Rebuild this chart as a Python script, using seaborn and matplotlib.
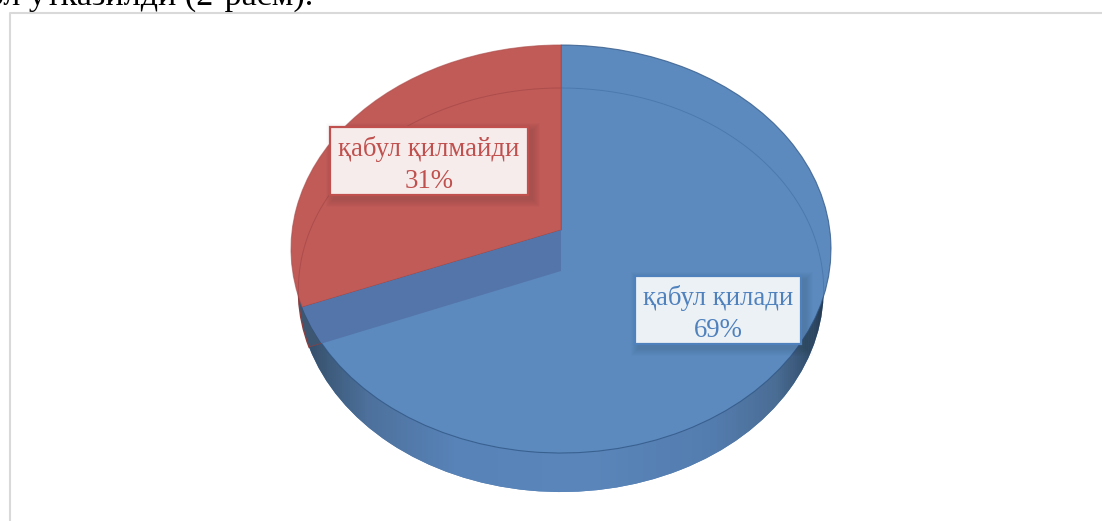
import numpy as np
import matplotlib
matplotlib.use("Agg")
import matplotlib.pyplot as plt
import matplotlib.transforms as mtransforms
from matplotlib.colors import LinearSegmentedColormap, to_rgba
from matplotlib.patches import Rectangle, Polygon
import seaborn as sns

categories = ["қабул қилади", "қабул қилмайди"]
values = [69, 31]
pie_colors = ["#5C8ABF", "#C05B58"]
text_colors = ["#4F81BD", "#C0504D"]
side_colors = ["#5480B5", "#3D5672"]
caption = "ол утказилди (2-расм)."

sns.set_theme(style="white")
plt.rcParams["font.family"] = ["Liberation Serif", "DejaVu Serif"]


class Perspective(mtransforms.Transform):
    """Tilted-disc projection of the unit pie into pixel coordinates."""
    input_dims = output_dims = 2
    is_separable = False
    has_inverse = False

    def __init__(self, cx, rx, y_apex, y_top, y_bottom):
        super().__init__()
        self.cx, self.rx = cx, rx
        s = y_top + y_bottom
        self.c = (s - 2 * y_apex) / (y_bottom - y_top)
        self.a = y_top * (1 + self.c) - y_apex
        self.b = y_apex

    def transform_non_affine(self, values):
        v = np.asarray(values, float)
        d = 1 + self.c * v[:, 1]
        return np.column_stack([self.cx + self.rx * v[:, 0] / d,
                                (self.a * v[:, 1] + self.b) / d])


top_proj = Perspective(561, 268.8, 230, 45, 453)
bot_proj = Perspective(561, 261.5, 271, 88, 492)

fig = plt.figure(figsize=(11.02, 5.21), dpi=100, facecolor="white")
ax = fig.add_axes([0, 0, 1, 1])


def draw_pie(proj, colors, zorder, **wedgeprops):
    wedges, _ = ax.pie(values, colors=colors, startangle=90, counterclock=False,
                       wedgeprops=wedgeprops)
    for w in wedges:
        w.set_transform(proj + ax.transData)
        w.set_zorder(zorder)
    return wedges


# extruded side: shaded band clipped by the lower disc
side = draw_pie(bot_proj, side_colors, 1, linewidth=0)
side[1].set_edgecolor("#8A3F3F")
side[1].set_linewidth(1.0)
shade = LinearSegmentedColormap.from_list(
    "side",
    [(0.0, "#2E4560"), (0.05, "#3A5674"), (0.14, "#4D719C"), (0.30, "#5883B8"),
     (0.55, "#5A86BB"), (0.78, "#547DAF"), (0.90, "#4A6D95"), (0.96, "#34506F"),
     (1.0, "#1F3246")])
grad = np.linspace(0, 1, 540).reshape(1, -1)
img = ax.imshow(grad, extent=(291, 831, 495, 240), cmap=shade, aspect="auto", zorder=2)
img.set_clip_path(side[0])

# top surface
top = draw_pie(top_proj, pie_colors, 3, linewidth=0.8,
               edgecolor=to_rgba("#2F5582", 0.75))
top[1].set_edgecolor(to_rgba("#A84A48", 0.6))

# inner wall seen through the blue surface
split = 90 - 360 * values[0] / sum(values)
theta = np.deg2rad(split)
rim = np.array([[np.cos(theta), np.sin(theta)]])
apex = np.array([[0.0, 0.0]])
wall = np.vstack([top_proj.transform_non_affine(apex), top_proj.transform_non_affine(rim),
                  bot_proj.transform_non_affine(rim), bot_proj.transform_non_affine(apex)])
wall_patch = Polygon(wall, closed=True, facecolor="#5475AA", edgecolor="none", zorder=4)
ax.add_patch(wall_patch)
wall_patch.set_clip_path(top[0])

# far rim of the lower disc seen through the surface (arc only, no radial edges)
arc_spans = [(90, split), (split, split - 360 * values[1] / sum(values))]
arc_colors = [to_rgba("#3F6B9F", 0.55), to_rgba("#A04443", 0.6)]
for i, (a0, a1) in enumerate(arc_spans):
    t = np.deg2rad(np.linspace(a0, a1, 200))
    line, = ax.plot(np.cos(t), np.sin(t), color=arc_colors[i], linewidth=0.7,
                    transform=bot_proj + ax.transData, zorder=5)
    line.set_clip_path(top[i])

# data labels
boxes = [(635, 276, 166, 68), (330, 127, 198, 68)]
for i, (cat, val) in enumerate(zip(categories, values)):
    x, y, w, h = boxes[i]
    for grow in range(1, 9):
        ax.add_patch(Rectangle((x + 4 - grow, y + 4 - grow), w + 2 * grow, h + 2 * grow,
                               facecolor="black", edgecolor="none", alpha=0.012, zorder=6))
    ax.add_patch(Rectangle((x, y), w, h, facecolor=["#ECF1F6", "#F6ECEC"][i],
                           edgecolor=text_colors[i], linewidth=1.6, zorder=7))
    ax.text(x + w / 2, y + h / 2 + 4, f"{cat}\n{val}%", color=text_colors[i], fontsize=19.3,
            ha="center", va="center", linespacing=1.34, zorder=8)

# page fragment: frame and clipped caption
ax.plot([9.5, 9.5, 1102], [521, 12.5, 12.5], color="#D9D9D9", linewidth=1.5, zorder=0.5)
ax.text(313, 5, caption, color="black", fontsize=24.5, ha="right", va="baseline", zorder=8)

ax.set_aspect("auto")
ax.set_xlim(0, 1102)
ax.set_ylim(521, 0)
ax.axis("off")
fig.savefig("out.png", dpi=100, facecolor="white")
